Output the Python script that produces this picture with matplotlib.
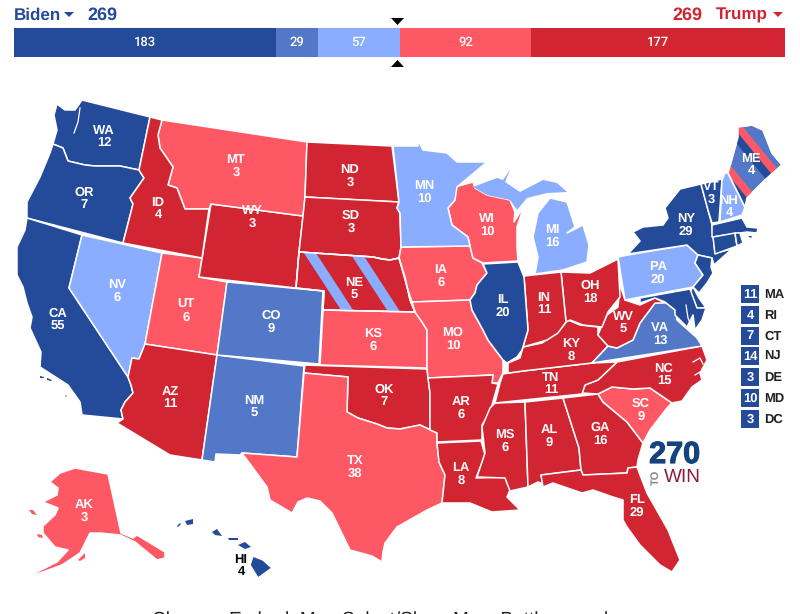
# 2020 electoral map, 270toWin style
import matplotlib
matplotlib.use('Agg')
import matplotlib.pyplot as plt
import matplotlib.patheffects as pe
from matplotlib.patches import Polygon

plt.rcParams['font.family'] = ['Liberation Sans', 'DejaVu Sans']
plt.rcParams['text.hinting'] = 'none'
plt.rcParams['text.hinting_factor'] = 1

DARK_BLUE = '#244a9a'
MID_BLUE = '#5478c8'
LIGHT_BLUE = '#8aadff'
LIGHT_RED = '#ff5865'
DARK_RED = '#d22532'

# the bar on top
bar_counts = [183, 29, 57, 92, 177]
bar_colors = [DARK_BLUE, MID_BLUE, LIGHT_BLUE, LIGHT_RED, DARK_RED]
biden_total = 269
trump_total = 269

# electoral votes per state
votes = {'WA': 12, 'OR': 7, 'CA': 55, 'NV': 6, 'ID': 4, 'MT': 3, 'WY': 3, 'UT': 6, 'CO': 9,
         'AZ': 11, 'NM': 5, 'ND': 3, 'SD': 3, 'NE': 5, 'KS': 6, 'OK': 7, 'TX': 38, 'MN': 10,
         'IA': 6, 'MO': 10, 'AR': 6, 'LA': 8, 'WI': 10, 'IL': 20, 'IN': 11, 'OH': 18, 'KY': 8,
         'TN': 11, 'MS': 6, 'AL': 9, 'GA': 16, 'FL': 29, 'SC': 9, 'NC': 15, 'VA': 13, 'WV': 5,
         'MI': 16, 'PA': 20, 'NY': 29, 'VT': 3, 'NH': 4, 'ME': 4, 'AK': 3, 'HI': 4}

# rating of each state
rating = {'WA': DARK_BLUE, 'OR': DARK_BLUE, 'CA': DARK_BLUE, 'NV': LIGHT_BLUE, 'ID': DARK_RED,
          'MT': LIGHT_RED, 'WY': DARK_RED, 'UT': LIGHT_RED, 'CO': MID_BLUE, 'AZ': DARK_RED,
          'NM': MID_BLUE, 'ND': DARK_RED, 'SD': DARK_RED, 'NE': DARK_RED, 'KS': LIGHT_RED,
          'OK': DARK_RED, 'TX': LIGHT_RED, 'MN': LIGHT_BLUE, 'IA': LIGHT_RED, 'MO': LIGHT_RED,
          'AR': DARK_RED, 'LA': DARK_RED, 'WI': LIGHT_RED, 'IL': DARK_BLUE, 'IN': DARK_RED,
          'OH': DARK_RED, 'KY': DARK_RED, 'TN': DARK_RED, 'MS': DARK_RED, 'AL': DARK_RED,
          'GA': DARK_RED, 'FL': DARK_RED, 'SC': LIGHT_RED, 'NC': DARK_RED, 'VA': MID_BLUE,
          'WV': DARK_RED, 'MI': LIGHT_BLUE, 'PA': LIGHT_BLUE, 'NY': DARK_BLUE, 'VT': DARK_BLUE,
          'NH': LIGHT_BLUE, 'ME': MID_BLUE, 'AK': LIGHT_RED, 'HI': DARK_BLUE,
          'MA': DARK_BLUE, 'RI': DARK_BLUE, 'CT': DARK_BLUE, 'NJ': DARK_BLUE, 'DE': DARK_BLUE,
          'MD': DARK_BLUE}

# the small states listed beside the map
small_names = ['MA', 'RI', 'CT', 'NJ', 'DE', 'MD', 'DC']
small_votes = [11, 4, 7, 14, 3, 10, 3]

# state outlines (no shapefile here)
outlines = {
    'WA': [(57,104),(65,110),(75,110),(82,100),(150,117),(139,170),(120,166),(95,166),(85,165),(68,161),(63,148),(53,144),(57,130),(54,115)],
    'OR': [(53,144),(63,148),(68,161),(85,165),(95,166),(120,166),(139,170),(144,178),(130,198),(133,204),(123,243),(27,218),(27,202),(40,177),(50,153)],
    'CA': [(27,218),(82,235),(69,288),(128,377),(131,385),(133,393),(125,402),(121,410),(123,419),(82,415),(80,402),(68,385),(40,367),(41,352),(30,328),(32,317),(27,303),(23,287),(17,275),(17,247),(25,230)],
    'NV': [(82,235),(162,253),(145,344),(139,359),(132,358),(128,377),(69,288)],
    'UT': [(162,253),(202,258),(199,277),(227,282),(217,355),(145,344)],
    'AZ': [(145,344),(217,355),(202,460),(170,455),(117,423),(123,419),(121,410),(125,402),(133,393),(131,385),(128,377),(132,358),(139,359)],
    'NM': [(217,355),(304,366),(297,457),(242,453),(240,455),(216,454),(215,462),(202,460)],
    'CO': [(227,282),(323,291),(319,364),(217,355)],
    'WY': [(211,204),(303,216),(299,252),(296,288),(199,277)],
    'MT': [(162,120),(307,142),(305,197),(303,216),(211,204),(209,209),(185,209),(177,188),(168,185),(173,167),(160,148),(158,135)],
    'ID': [(150,117),(162,120),(158,135),(160,148),(173,167),(168,185),(177,188),(185,209),(209,209),(202,258),(123,243),(133,204),(130,198),(144,178),(139,170)],
    'ND': [(307,142),(392,146),(399,202),(305,197)],
    'SD': [(305,197),(399,202),(397,208),(400,213),(401,247),(399,258),(390,260),(382,259),(373,257),(299,252),(303,216)],
    'NE': [(299,252),(373,257),(382,259),(390,260),(399,258),(405,277),(410,300),(415,312),(323,310),(324,291),(296,288)],
    'KS': [(323,310),(415,312),(422,322),(427,330),(427,368),(320,365)],
    'OK': [(305,365),(427,369),(430,393),(430,430),(437,433),(420,425),(400,429),(387,428),(377,424),(358,418),(347,412),(348,377),(304,373)],
    'TX': [(304,373),(348,377),(347,412),(358,418),(377,424),(387,428),(400,429),(420,425),(437,433),(437,443),(439,462),(445,475),(442,503),(427,510),(397,527),(385,543),(383,552),(382,562),(372,556),(350,550),(332,513),(320,501),(307,498),(298,502),(292,513),(270,500),(267,487),(242,453),(297,457)],
    'IA': [(401,247),(470,246),(473,258),(482,263),(487,273),(477,285),(475,293),(470,300),(412,302),(407,287),(399,258)],
    'MO': [(412,302),(470,300),(472,310),(483,330),(488,340),(503,360),(503,373),(498,383),(492,383),(493,375),(428,378),(427,369),(427,330),(422,322),(415,312)],
    'AR': [(428,378),(493,375),(492,383),(498,384),(490,412),(482,425),(482,440),(437,442),(437,433),(430,430),(430,393)],
    'LA': [(437,443),(481,441),(485,455),(476,478),(505,477),(510,490),(507,497),(520,510),(492,512),(470,503),(442,503),(445,475),(439,462)],
    'MS': [(495,403),(525,402),(528,487),(510,491),(505,478),(477,477),(485,453),(482,427),(490,408)],
    'AL': [(525,402),(563,398),(579,448),(581,470),(541,475),(543,484),(538,482),(528,487)],
    'GA': [(563,398),(598,394),(603,402),(627,422),(643,443),(638,460),(637,467),(628,468),(627,473),(583,475),(581,470),(579,448)],
    'FL': [(541,475),(581,470),(583,475),(627,473),(628,468),(637,467),(647,493),(668,530),(680,560),(672,572),(660,565),(640,545),(627,527),(623,520),(623,500),(613,497),(593,490),(582,493),(553,483),(543,487)],
    'SC': [(598,394),(612,387),(633,389),(650,388),(672,403),(667,408),(650,430),(643,443),(627,422),(603,402)],
    'NC': [(582,393),(585,385),(598,380),(617,362),(702,346),(707,360),(700,373),(702,380),(692,387),(682,401),(672,403),(650,388),(633,389),(612,387),(598,394)],
    'TN': [(503,374),(523,371),(592,363),(617,362),(598,380),(585,385),(582,394),(495,403),(500,383)],
    'KY': [(508,373),(508,363),(520,358),(523,347),(542,343),(557,333),(568,320),(580,325),(598,327),(598,335),(608,346),(592,363),(523,371)],
    'VA': [(592,363),(608,346),(617,348),(633,340),(640,323),(655,303),(665,302),(675,310),(677,320),(697,338),(702,346)],
    'WV': [(598,335),(600,330),(607,315),(618,307),(620,285),(625,300),(640,305),(655,298),(665,303),(655,303),(640,323),(633,340),(617,348),(608,346)],
    'OH': [(561,272),(590,273),(618,259),(620,297),(608,312),(602,327),(583,325),(570,320),(566,322)],
    'IN': [(524,276),(561,272),(566,322),(558,333),(547,340),(523,347),(528,330)],
    'IL': [(483,264),(518,262),(524,277),(528,330),(522,350),(517,357),(507,363),(503,360),(488,340),(483,330),(472,310),(470,300),(475,293),(477,285),(487,273)],
    'WI': [(455,187),(473,182),(475,188),(487,195),(510,200),(515,212),(514,222),(524,206),(517,227),(517,247),(518,261),(483,263),(473,258),(470,246),(468,237),(452,225),(448,208),(455,200)],
    'MN': [(393,146),(418,146),(418,140),(423,150),(447,153),(457,162),(487,162),(457,187),(455,200),(448,208),(452,225),(468,237),(470,246),(401,247),(400,213),(397,208),(399,202)],
    'MI': [(550,198),(567,202),(575,227),(567,233),(583,225),(589,245),(587,262),(563,270),(535,274),(538,257),(533,237),(538,213)],
    'PA': [(618,257),(628,255),(687,245),(698,255),(695,263),(703,275),(693,287),(625,300)],
    'NY': [(628,254),(640,241),(633,232),(643,227),(663,225),(668,218),(665,208),(680,189),(701,184),(708,210),(712,225),(715,253),(732,249),(714,265),(712,258),(698,255),(687,245)],
    'NJ': [(698,255),(712,258),(711,267),(713,273),(707,283),(699,293),(693,287),(703,275),(695,263)],
    'DE': [(690,292),(693,287),(699,298),(706,308),(697,308)],
    'MD': [(640,303),(640,298),(690,289),(697,308),(706,308),(702,320),(695,330),(693,315),(687,327),(675,315),(675,310),(665,302),(655,298)],
    'VT': [(701,184),(722,179),(719,222),(712,223),(708,210)],
    'NH': [(725,173),(728,173),(745,207),(742,215),(720,222),(722,180)],
    'ME': [(738,127),(752,125),(763,130),(772,153),(782,165),(767,178),(747,198),(745,207),(728,173),(733,155),(738,137)],
    'MA': [(712,225),(742,218),(747,227),(758,228),(757,233),(747,232),(740,233),(712,237)],
    'CT': [(713,237),(735,233),(737,246),(715,254)],
    'RI': [(735,233),(740,233),(743,243),(737,246)],
    'AK': [(50,482),(60,473),(75,468),(108,474),(121,533),(133,538),(137,535),(165,552),(165,558),(157,560),(135,542),(120,535),(100,533),(90,533),(80,553),(62,565),(40,573),(23,578),(37,572),(57,562),(68,550),(55,547),(43,533),(43,526),(55,515),(58,508),(43,502),(57,495),(58,488)],
    'HI': [(253,556),(263,560),(272,568),(258,578),(250,565)],
}

# bits that belong to a state but are not joined to it
extra_parts = {
    'MI': [[(473,187),(497,178),(503,180),(510,170),(505,182),(520,192),(543,180),(557,183),(567,192),(547,193),(527,198),(517,210),(510,200),(487,195)]],
    'HI': [[(238,545),(245,542),(251,547),(245,549)],[(212,532),(217,529),(222,536),(215,535)],
           [(185,521),(193,519),(193,524),(187,525)],[(228,538),(238,538),(238,540),(229,540)],
           [(177,526),(180,523),(181,524),(178,527)]],
    'AK': [[(29,510),(33,510),(37,515),(32,514)],[(37,534),(42,535),(43,538),(38,537)],
           [(78,560),(85,553),(85,558),(80,561)]],
    'CA': [[(40,376),(44,377),(44,378),(40,378)],[(47,378),(52,380),(51,381),(47,380)],
           [(65,395),(67,396),(66,397)]],
    'MA': [[(748,236),(752,236),(751,238)]],
}

# white slivers where water cuts in
water_lines = [
    [(80,108),(78,122),(74,133)],
    [(686,305),(688,318),(693,330),(696,333)],
    [(693,362),(700,358),(703,364)],
    [(695,375),(700,372)],
]

label_pos = {'WA': (104,137), 'OR': (84,199), 'CA': (58,320), 'NV': (117,291), 'ID': (158,209),
             'MT': (236,166), 'WY': (252,217), 'UT': (186,311), 'CO': (271,322), 'AZ': (170,398),
             'NM': (254,407), 'ND': (350,176), 'SD': (351,222), 'NE': (354,289), 'KS': (373,340),
             'OK': (384,396), 'TX': (355,467), 'MN': (424,192), 'IA': (441,276), 'MO': (453,339),
             'AR': (461,408), 'LA': (461,474), 'WI': (487,225), 'IL': (503,306), 'IN': (544,304),
             'OH': (590,292), 'KY': (571,350), 'TN': (551,384), 'MS': (505,441), 'AL': (549,436),
             'GA': (600,434), 'FL': (637,506), 'SC': (641,410), 'NC': (664,375), 'VA': (660,334),
             'WV': (623,323), 'MI': (552,236), 'PA': (658,273), 'NY': (686,225), 'VT': (711,193),
             'NH': (729,207), 'ME': (751,165), 'AK': (84,511), 'HI': (241,566)}

W, H = 800, 614
fig = plt.figure(figsize=(W / 100, H / 100), dpi=100)
ax = fig.add_axes([0, 0, 1, 1])
ax.set_xlim(0, W)
ax.set_ylim(H, 0)
ax.axis('off')


def add_stripes(clip, x_top, y_top, y_bottom, slope, width, color):
    # slanted band clipped to the state
    x_bottom = x_top + (y_bottom - y_top) * slope
    band = Polygon([(x_top, y_top), (x_top + width, y_top),
                    (x_bottom + width, y_bottom), (x_bottom, y_bottom)],
                   facecolor=color, edgecolor='none', zorder=2)
    ax.add_patch(band)
    band.set_clip_path(clip)


for state, pts in outlines.items():
    ax.add_patch(Polygon(pts, closed=True, facecolor=rating[state], edgecolor='white',
                         linewidth=1.1, joinstyle='round', zorder=1))
    for part in extra_parts.get(state, []):
        ax.add_patch(Polygon(part, closed=True, facecolor=rating[state],
                             edgecolor='none', zorder=1))

# Nebraska split: one district is light blue
clip_ne = Polygon(outlines['NE'], closed=True, transform=ax.transData)
add_stripes(clip_ne, 302, 250, 312, 0.65, 12, LIGHT_BLUE)
add_stripes(clip_ne, 348, 250, 312, 0.65, 12, LIGHT_BLUE)

# Maine split
clip_me = Polygon(outlines['ME'], closed=True, transform=ax.transData)
for x0, c, wid in [(719, LIGHT_RED, 10), (709, DARK_BLUE, 10), (675, LIGHT_RED, 10), (665, DARK_BLUE, 10)]:
    add_stripes(clip_me, x0, 110, 220, 0.82, wid, c)
# put the outline back over the stripes
for st in ['NE', 'ME']:
    ax.add_patch(Polygon(outlines[st], closed=True, facecolor='none', edgecolor='white',
                         linewidth=1.1, zorder=3))

for line in water_lines:
    ax.plot([q[0] for q in line], [q[1] for q in line], color='white', lw=0.9, zorder=3)

for state, (x, y) in label_pos.items():
    col = 'black' if state == 'HI' else 'white'
    ax.text(x, y, f'{state}\n{votes[state]}', color=col, fontsize=9, fontweight='bold',
            ha='center', va='center', linespacing=1.0, zorder=4)

# small state boxes
for i, (name, v) in enumerate(zip(small_names, small_votes)):
    y = 285 + i * 20.8
    ax.add_patch(plt.Rectangle((741, y), 18, 18, facecolor=DARK_BLUE, edgecolor='none'))
    ax.text(750, y + 9.5, str(v), color='white', fontsize=9, fontweight='bold',
            ha='center', va='center')
    ax.text(764, y + 9.5, name, color='#222222', fontsize=9, fontweight='bold',
            ha='left', va='center')

# logo
ax.text(675, 455, '270', color='#16437e', fontsize=22, fontweight='bold', ha='center', va='center',
        family=['Liberation Sans Narrow', 'Liberation Sans'],
        path_effects=[pe.withStroke(linewidth=0.8, foreground='#16437e')])
ax.text(656, 477, 'TO', color='#8a8a8a', fontsize=8, rotation=90, ha='center', va='center',
        fontweight='bold')
ax.text(682, 477, 'WIN', color='#8c1c3e', fontsize=13.5, ha='center', va='center',
        family=['Liberation Sans Narrow', 'Liberation Sans'])

# header
ax.text(14, 15, 'Biden', color=DARK_BLUE, fontsize=12, fontweight='bold', va='center')
ax.add_patch(Polygon([(64, 12), (74, 12), (69, 17)], facecolor=DARK_BLUE, edgecolor='none'))
ax.text(87, 15, str(biden_total), color=DARK_BLUE, fontsize=13, fontweight='bold', va='center')
ax.text(702, 15, str(trump_total), color=DARK_RED, fontsize=13, fontweight='bold', va='center', ha='right')
ax.text(768, 15, 'Trump', color=DARK_RED, fontsize=12, fontweight='bold', va='center', ha='right')
ax.add_patch(Polygon([(773, 12), (783, 12), (778, 17)], facecolor=DARK_RED, edgecolor='none'))

# 270 markers
ax.add_patch(Polygon([(391, 18), (404, 18), (397.5, 25)], facecolor='black', edgecolor='none'))
ax.add_patch(Polygon([(391, 67), (404, 67), (397.5, 60)], facecolor='black', edgecolor='none'))

# cut off at the bottom of the screenshot
ax.text(380, 620, 'Change  Embed  Map Select/Show Map  Battleground', color='#222222', fontsize=13.5,
        ha='center', va='center', clip_on=False)

# stacked bar with its own scale
bar_ax = fig.add_axes([14 / W, 1 - 57 / H, 771 / W, 29 / H])
bar_ax.set_xlim(0, sum(bar_counts))
bar_ax.set_ylim(0, 1)
bar_ax.axis('off')
left = 0
for n, c in zip(bar_counts, bar_colors):
    bar_ax.barh(0.5, n, left=left, height=1, color=c)
    bar_ax.text(left + n / 2, 0.5, str(n), color='white', fontsize=9.5, ha='center', va='center',
                family=['Roboto', 'Liberation Sans'], fontweight='medium')
    left += n

plt.savefig('out.png', dpi=100)
